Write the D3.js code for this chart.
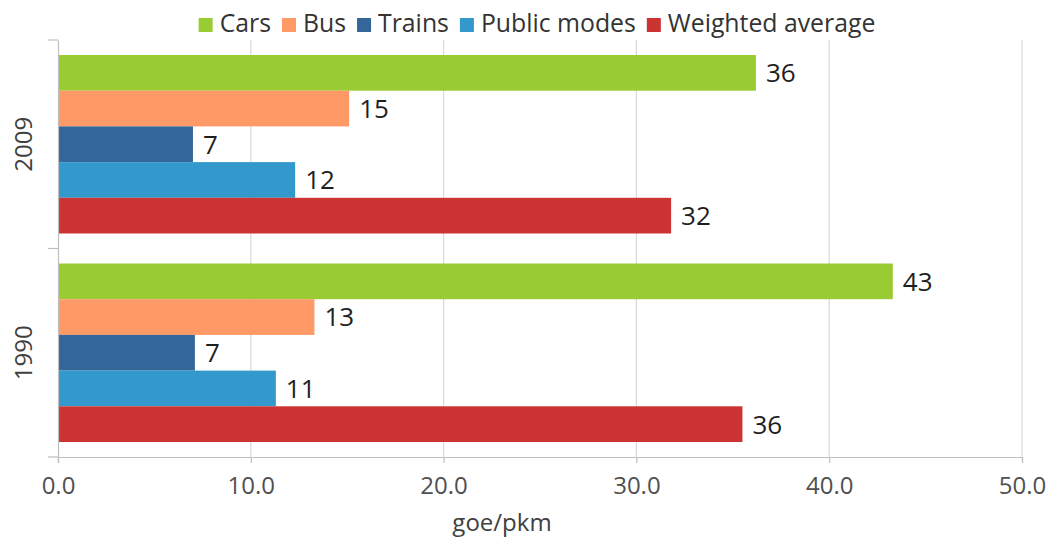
<!DOCTYPE html>
<html>
<head>
<meta charset="utf-8">
<script src="https://cdn.jsdelivr.net/npm/d3@7"></script>
<style>
  html, body { margin: 0; padding: 0; background: #ffffff; }
  svg { display: block; font-family: "Open Sans", "DejaVu Sans", sans-serif; }
</style>
</head>
<body>
<svg id="chart" width="1050" height="540"></svg>
<script>
// ---- data ----
const categories = ["2009", "1990"];
const seriesNames = ["Cars", "Bus", "Trains", "Public modes", "Weighted average"];
const cars = [36.2, 43.3];
const bus = [15.1, 13.3];
const trains = [7.0, 7.1];
const publicModes = [12.3, 11.3];
const weighted = [31.8, 35.5];
const xTicks = [0, 10, 20, 30, 40, 50];
const axisTitle = "goe/pkm";
const colors = ["#99cc33", "#ff9966", "#336699", "#3399cc", "#cc3333"];

const seriesValues = [cars, bus, trains, publicModes, weighted];

// ---- layout ----
const svg = d3.select("#chart");
const plotLeft = 58, plotRight = 1022, plotTop = 40, plotBottom = 457;

const x = d3.scaleLinear().domain([0, 50]).range([plotLeft, plotRight]);
const y = d3.scaleBand().domain(categories).range([plotTop, plotBottom]).padding(0);
const yInner = d3.scaleBand().domain(seriesNames)
  .range([15, y.bandwidth() - 15]).padding(0);

// gridlines
svg.append("g").selectAll("line").data(xTicks.slice(1)).join("line")
  .attr("x1", d => x(d)).attr("x2", d => x(d))
  .attr("y1", plotTop).attr("y2", plotBottom)
  .attr("stroke", "#d9d9d9").attr("stroke-width", 1.2);

// bars
const groups = svg.append("g").selectAll("g").data(categories).join("g")
  .attr("transform", c => `translate(0,${y(c)})`);

groups.each(function(c, ci) {
  const g = d3.select(this);
  seriesNames.forEach((s, si) => {
    const v = seriesValues[si][ci];
    g.append("rect")
      .attr("x", x(0))
      .attr("y", yInner(s))
      .attr("width", x(v) - x(0))
      .attr("height", yInner.bandwidth())
      .attr("fill", colors[si]);
    g.append("text")
      .attr("x", x(v) + 10)
      .attr("y", yInner(s) + yInner.bandwidth() / 2)
      .attr("dy", "0.36em")
      .attr("font-size", 26)
      .attr("fill", "#1f1f1f")
      .text(Math.round(v));
  });
});

// x axis
const xAxis = d3.axisBottom(x).tickValues(xTicks).tickFormat(d3.format(".1f"))
  .tickSize(6).tickPadding(14);
const gx = svg.append("g").attr("transform", `translate(0,${plotBottom})`).call(xAxis);
gx.select(".domain").attr("stroke", "#bfbfbf").attr("stroke-width", 1.2);
gx.selectAll(".tick line").attr("stroke", "#bfbfbf").attr("stroke-width", 1.2);
gx.selectAll(".tick text").attr("font-size", 24).attr("fill", "#505050")
  .attr("font-family", "Open Sans");

// y axis
const yAxis = d3.axisLeft(y).tickSize(0).tickFormat("");
const gy = svg.append("g").attr("transform", `translate(${plotLeft},0)`).call(yAxis);
gy.select(".domain").attr("stroke", "#bfbfbf").attr("stroke-width", 1.2);
gy.selectAll(".tick").remove();
// category boundary ticks
const boundaries = [plotTop, ...categories.map(c => y(c) + y.bandwidth())];
svg.append("g").selectAll("line").data(boundaries).join("line")
  .attr("x1", plotLeft - 10).attr("x2", plotLeft)
  .attr("y1", d => d).attr("y2", d => d)
  .attr("stroke", "#bfbfbf").attr("stroke-width", 1.2);

// category labels (rotated)
svg.append("g").selectAll("text").data(categories).join("text")
  .attr("transform", c => `translate(32,${y(c) + y.bandwidth() / 2}) rotate(-90)`)
  .attr("text-anchor", "middle")
  .attr("font-size", 24).attr("fill", "#404040")
  .text(c => c);

// axis title
svg.append("text")
  .attr("x", (plotLeft + plotRight) / 2 - 38).attr("y", 531)
  .attr("text-anchor", "middle")
  .attr("font-size", 24).attr("fill", "#404040")
  .text(axisTitle);

// legend
const legend = svg.append("g");
let cx = 0;
seriesNames.forEach((s, i) => {
  const item = legend.append("g").attr("transform", `translate(${cx},0)`);
  item.append("rect").attr("x", 0).attr("y", -14).attr("width", 14).attr("height", 14)
    .attr("fill", colors[i]);
  const t = item.append("text").attr("x", 21).attr("y", 0)
    .attr("font-size", 24.8).attr("fill", "#333333").text(s);
  cx += 21 + t.node().getComputedTextLength() + 11;
});
const legendWidth = cx - 11;
legend.attr("transform", `translate(${537 - legendWidth / 2},32)`);
</script>
</body>
</html>
